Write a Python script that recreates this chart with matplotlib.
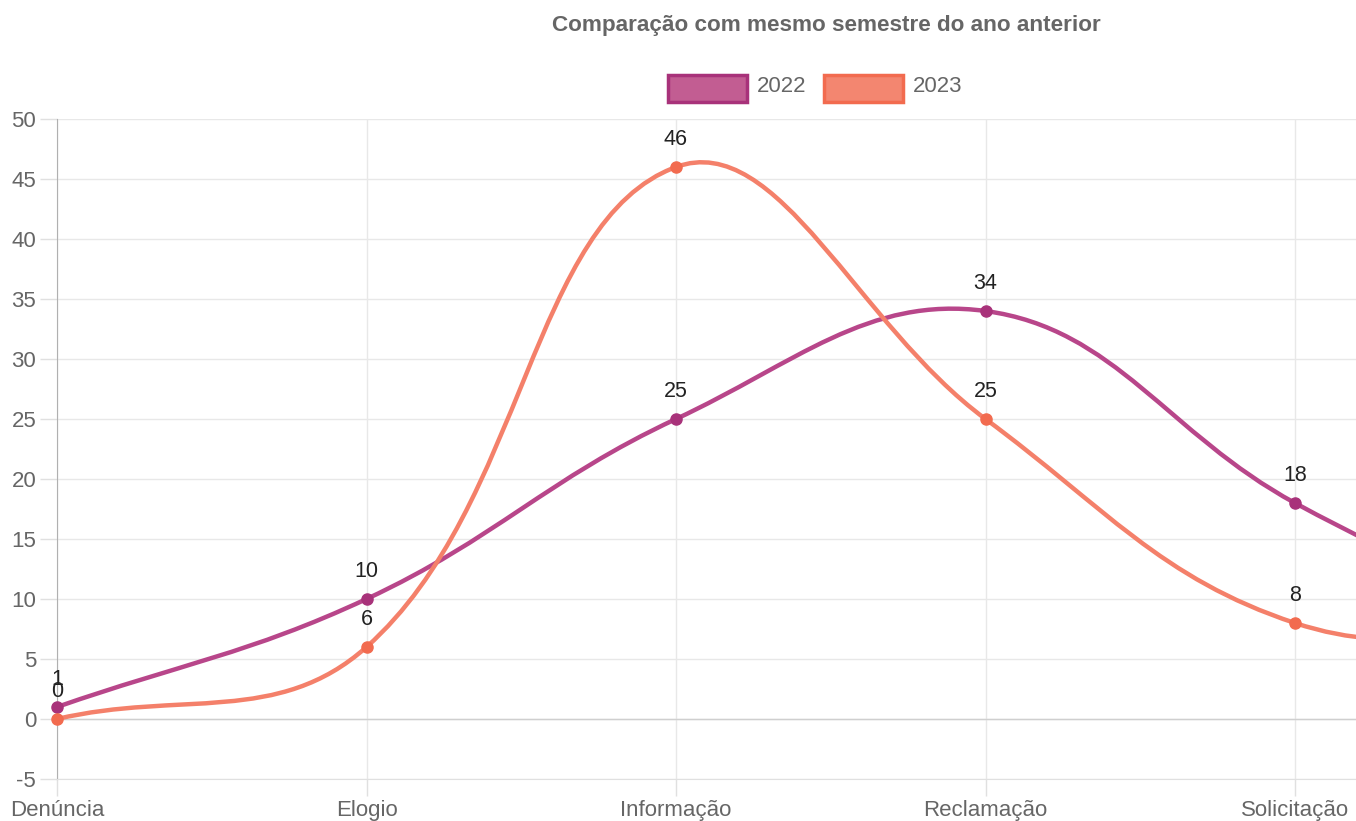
import numpy as np
import matplotlib
matplotlib.use('Agg')
import matplotlib.pyplot as plt
from matplotlib.path import Path
from matplotlib.patches import PathPatch, Rectangle

plt.rcParams['font.family'] = ['Liberation Sans', 'DejaVu Sans']
plt.rcParams['axes.unicode_minus'] = False

categorias = ['Denúncia', 'Elogio', 'Informação', 'Reclamação', 'Solicitação', 'Sugestão']
anos = ['2022', '2023']
valores_2022 = [1, 10, 25, 34, 18, 6]
valores_2023 = [0, 6, 46, 25, 8, 8]

cor_linha = {'2022': '#b8468a', '2023': '#f4806a'}
cor_ponto = {'2022': '#a8327a', '2023': '#f26b4f'}
cor_caixa = {'2022': '#c25d92', '2023': '#f38670'}

W, H = 1356, 821
fig = plt.figure(figsize=(W / 100, H / 100), dpi=100)
x0, x1, ytop, ybot = 57, 1356, 119, 779
ax = fig.add_axes([x0 / W, 1 - ybot / H, (x1 - x0) / W, (ybot - ytop) / H])

ymin, ymax = -5, 50
passo = 309.5
sx = passo
sy = (ybot - ytop) / (ymax - ymin)


def spline_chartjs(vals, tension=0.4):
    # curva igual à do Chart.js (splineCurve), calculada em pixels
    n = len(vals)
    P = [(i * sx, v * sy) for i, v in enumerate(vals)]
    cps = []
    for i in range(n):
        p = P[i - 1] if i > 0 else P[i]
        c = P[i]
        nx = P[i + 1] if i < n - 1 else P[i]
        d01 = np.hypot(c[0] - p[0], c[1] - p[1])
        d12 = np.hypot(nx[0] - c[0], nx[1] - c[1])
        tot = d01 + d12
        s01 = d01 / tot if tot else 0
        s12 = d12 / tot if tot else 0
        fa, fb = tension * s01, tension * s12
        prev = (c[0] - fa * (nx[0] - p[0]), c[1] - fa * (nx[1] - p[1]))
        nxt = (c[0] + fb * (nx[0] - p[0]), c[1] + fb * (nx[1] - p[1]))
        cps.append((prev, nxt))
    verts = [(P[0][0] / sx, P[0][1] / sy)]
    codes = [Path.MOVETO]
    for i in range(n - 1):
        a = cps[i][1]
        b = cps[i + 1][0]
        for q in (a, b, P[i + 1]):
            yy = min(max(q[1] / sy, ymin), ymax)
            verts.append((q[0] / sx, yy))
            codes.append(Path.CURVE4)
    return Path(verts, codes)


for ano, vals in zip(anos, [valores_2022, valores_2023]):
    patch = PathPatch(spline_chartjs(vals), facecolor='none', edgecolor=cor_linha[ano],
                      linewidth=3.2, zorder=3, capstyle='round', joinstyle='round')
    ax.add_patch(patch)
    ax.plot(range(len(vals)), vals, 'o', color=cor_ponto[ano], markersize=8, zorder=4, clip_on=False)
    for i, v in enumerate(vals):
        ax.annotate(str(v), (i, v), xytext=(0, 17), textcoords='offset pixels',
                    ha='center', va='bottom', fontsize=15.5, color='#222222', zorder=5)

ax.set_yticks(range(-5, 51, 5))
ax.set_xticks(range(len(categorias)))
ax.set_xticklabels(categorias)
ax.set_xlim(0, (x1 - x0) / passo)
ax.set_ylim(ymin, ymax)
ax.grid(True, color='#e8e8e8', linewidth=1)
ax.tick_params(axis='both', colors='#e0e0e0', labelcolor='#666666', labelsize=16, width=1)
ax.tick_params(axis='y', length=12, pad=3)
ax.tick_params(axis='x', length=12, pad=3)
ax.axhline(0, color='#cfcfcf', linewidth=1, zorder=1)
for s in ['top', 'right']:
    ax.spines[s].set_visible(False)
ax.spines['left'].set_color('#b0b0b0')
ax.spines['bottom'].set_color('#e0e0e0')
ax.set_axisbelow(True)

fig.text(826 / W, 1 - 26 / H, 'Comparação com mesmo semestre do ano anterior', ha='center', va='center',
         fontsize=16.2, fontweight='bold', color='#666666')

# legenda
caixas = [(668, '2022'), (824, '2023')]
for xb, ano in caixas:
    r = Rectangle((xb / W, 1 - 102 / H), 79 / W, 27 / H, transform=fig.transFigure,
                  facecolor=cor_caixa[ano], edgecolor=cor_ponto[ano], linewidth=2.5)
    fig.patches.append(r)
    fig.text((xb + 89) / W, 1 - 87 / H, ano, ha='left', va='center', fontsize=16, color='#666666')

fig.savefig('out.png', dpi=100)
